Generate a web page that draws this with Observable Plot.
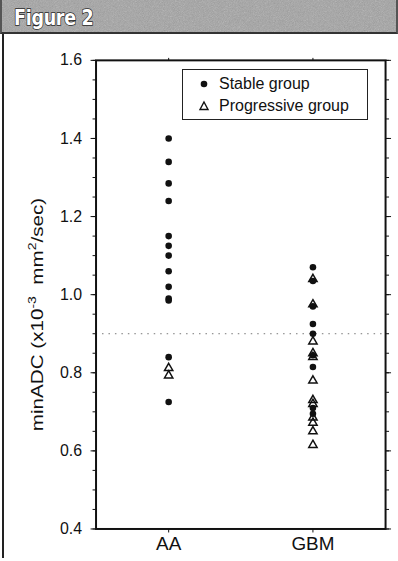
<!DOCTYPE html>
<html>
<head>
<meta charset="utf-8">
<script src="https://cdn.jsdelivr.net/npm/d3@7"></script>
<script src="https://cdn.jsdelivr.net/npm/@observablehq/plot@0.6"></script>
<style>
  html, body { margin: 0; padding: 0; background: #fff; }
  #page { position: relative; width: 398px; height: 561px; overflow: hidden; background: #fff; }
  #header {
    height: 32px; border-bottom: 2px solid #333; box-sizing: content-box;
    background-color: #a2a2a2;
    background-image: url("data:image/svg+xml;utf8,<svg xmlns='http://www.w3.org/2000/svg' width='200' height='40'><filter id='n'><feTurbulence type='fractalNoise' baseFrequency='1.2' numOctaves='2' stitchTiles='stitch'/><feColorMatrix type='saturate' values='0'/></filter><rect width='200' height='40' filter='url(%23n)' opacity='0.45'/></svg>");
    border-left: 2px solid #555; border-right: 2px solid #555;
  }
  #title {
    position: absolute; left: 14px; top: 5px;
    font-family: "DejaVu Sans Condensed", "Liberation Sans Narrow", sans-serif;
    font-weight: bold; font-size: 19.5px; color: #fff; letter-spacing: -0.3px;
    -webkit-text-stroke: 1.3px #2a2a2a; paint-order: stroke fill;
    transform: scaleY(1.12); transform-origin: 0 0;
  }
  #chart { position: absolute; left: 0; top: 34px; border-left: 2px solid #222; margin-left: 2px; }
  #legend {
    position: absolute; left: 182px; top: 69px; width: 186px; height: 51px;
    border: 1px solid #222; background: #fff; box-sizing: border-box;
    font-family: "Liberation Sans", Arial, sans-serif; font-size: 16px; color: #111;
  }
  .item { position: absolute; left: 15px; display: flex; align-items: center; white-space: nowrap; }
  .item svg { margin-right: 9px; }
</style>
</head>
<body>
<div id="page">
  <div id="header"></div>
  <div id="title">Figure 2</div>
  <div id="chart"></div>
  <div id="legend"></div>
</div>
<script>
// ---- data (minADC, x10^-3 mm^2/sec) ----
const categories = ["AA", "GBM"];
const seriesNames = ["Stable group", "Progressive group"];
const aaStable = [1.40, 1.34, 1.285, 1.24, 1.15, 1.125, 1.10, 1.06, 1.02, 0.99, 0.985, 0.84, 0.725];
const aaProgressive = [0.812, 0.793];
const gbmStable = [1.07, 1.035, 0.97, 0.925, 0.90, 0.845, 0.815, 0.71, 0.695];
const gbmProgressive = [1.04, 0.975, 0.88, 0.85, 0.84, 0.78, 0.73, 0.72, 0.685, 0.672, 0.65, 0.615];
const cutoff = 0.9;
const yTicks = [0.4, 0.6, 0.8, 1.0, 1.2, 1.4, 1.6];
const yMinorTicks = [0.4, 0.45, 0.5, 0.55, 0.6, 0.65, 0.7, 0.75, 0.8, 0.85, 0.9, 0.95, 1.0,
                     1.05, 1.1, 1.15, 1.2, 1.25, 1.3, 1.35, 1.4, 1.45, 1.5, 1.55, 1.6];
const yLabel = "minADC (x10-3  mm2/sec)";

const stableRows = [
  ...aaStable.map(v => ({group: categories[0], value: v})),
  ...gbmStable.map(v => ({group: categories[1], value: v}))
];
const progressiveRows = [
  ...aaProgressive.map(v => ({group: categories[0], value: v})),
  ...gbmProgressive.map(v => ({group: categories[1], value: v}))
];

const ink = "#111";
const chart = Plot.plot({
  width: 396, height: 527,
  marginTop: 26, marginBottom: 30, marginLeft: 92, marginRight: 13,
  x: {type: "point", domain: categories, padding: 0.5, axis: null},
  y: {domain: [0.4, 1.6], axis: null},
  style: {fontFamily: "'Liberation Sans', Arial, sans-serif", color: ink, background: "transparent", overflow: "visible"},
  marks: [
    Plot.ruleY([cutoff], {stroke: "#777", strokeWidth: 1, strokeDasharray: "1.5,5"}),
    Plot.axisY({ticks: yMinorTicks, tickSize: 3, tickFormat: () => "", label: null, stroke: ink}),
    Plot.axisY({ticks: yTicks, tickSize: 5, tickPadding: 9, tickFormat: d => d.toFixed(1), fontSize: 16, label: null, stroke: ink}),
    Plot.axisY({anchor: "right", ticks: yMinorTicks, tickSize: 3, tickFormat: () => "", label: null, stroke: ink}),
    Plot.axisY({anchor: "right", ticks: yTicks, tickSize: 5, tickFormat: () => "", label: null, stroke: ink}),
    Plot.axisX({ticks: categories, tickSize: 4, tickPadding: 4, fontSize: 19, label: null, stroke: ink}),
    Plot.axisX({anchor: "top", ticks: categories, tickSize: 3, tickFormat: () => "", label: null, stroke: ink}),
    Plot.frame({stroke: ink, strokeWidth: 2}),
    Plot.dot(stableRows, {x: "group", y: "value", r: 3.3, fill: ink, stroke: "none"}),
    Plot.dot(progressiveRows, {x: "group", y: "value", symbol: "triangle", r: 3.1, fill: "none", stroke: ink, strokeWidth: 1.5}),
    Plot.text([yLabel], {frameAnchor: "left", dx: -59, dy: 20, rotate: -90, fontSize: 17, textAnchor: "middle", fill: ink})
  ]
});
document.getElementById("chart").appendChild(chart);

// superscripts in the y label, and stretch it along its length like the scan
const lbl = Array.from(chart.querySelectorAll("text")).find(t => t.textContent === yLabel);
if (lbl) {
  const ns = "http://www.w3.org/2000/svg";
  lbl.textContent = "";
  lbl.setAttribute("style", "white-space: pre");
  const parts = [["minADC (x10", false], ["-3", true], ["  mm", false], ["2", true], ["/sec)", false]];
  for (const [s, sup] of parts) {
    const ts = document.createElementNS(ns, "tspan");
    ts.textContent = s;
    if (sup) { ts.setAttribute("baseline-shift", "super"); ts.setAttribute("font-size", "11.5"); }
    lbl.appendChild(ts);
  }
  const tr = lbl.getAttribute("transform") || "";
  lbl.setAttribute("transform", tr + " scale(1.22,1)");
}

// legend
const legend = document.getElementById("legend");
const items = [
  {name: seriesNames[0], sym: `<circle cx="6" cy="6" r="3.3" fill="${ink}"/>`, top: 5},
  {name: seriesNames[1], sym: `<path d="M6,2 L10,9.5 L2,9.5 Z" fill="none" stroke="${ink}" stroke-width="1.4"/>`, top: 27}
];
for (const it of items) {
  const d = document.createElement("div");
  d.className = "item";
  d.style.top = it.top + "px";
  d.innerHTML = `<svg width="12" height="12">${it.sym}</svg><span>${it.name}</span>`;
  legend.appendChild(d);
}
</script>
</body>
</html>
